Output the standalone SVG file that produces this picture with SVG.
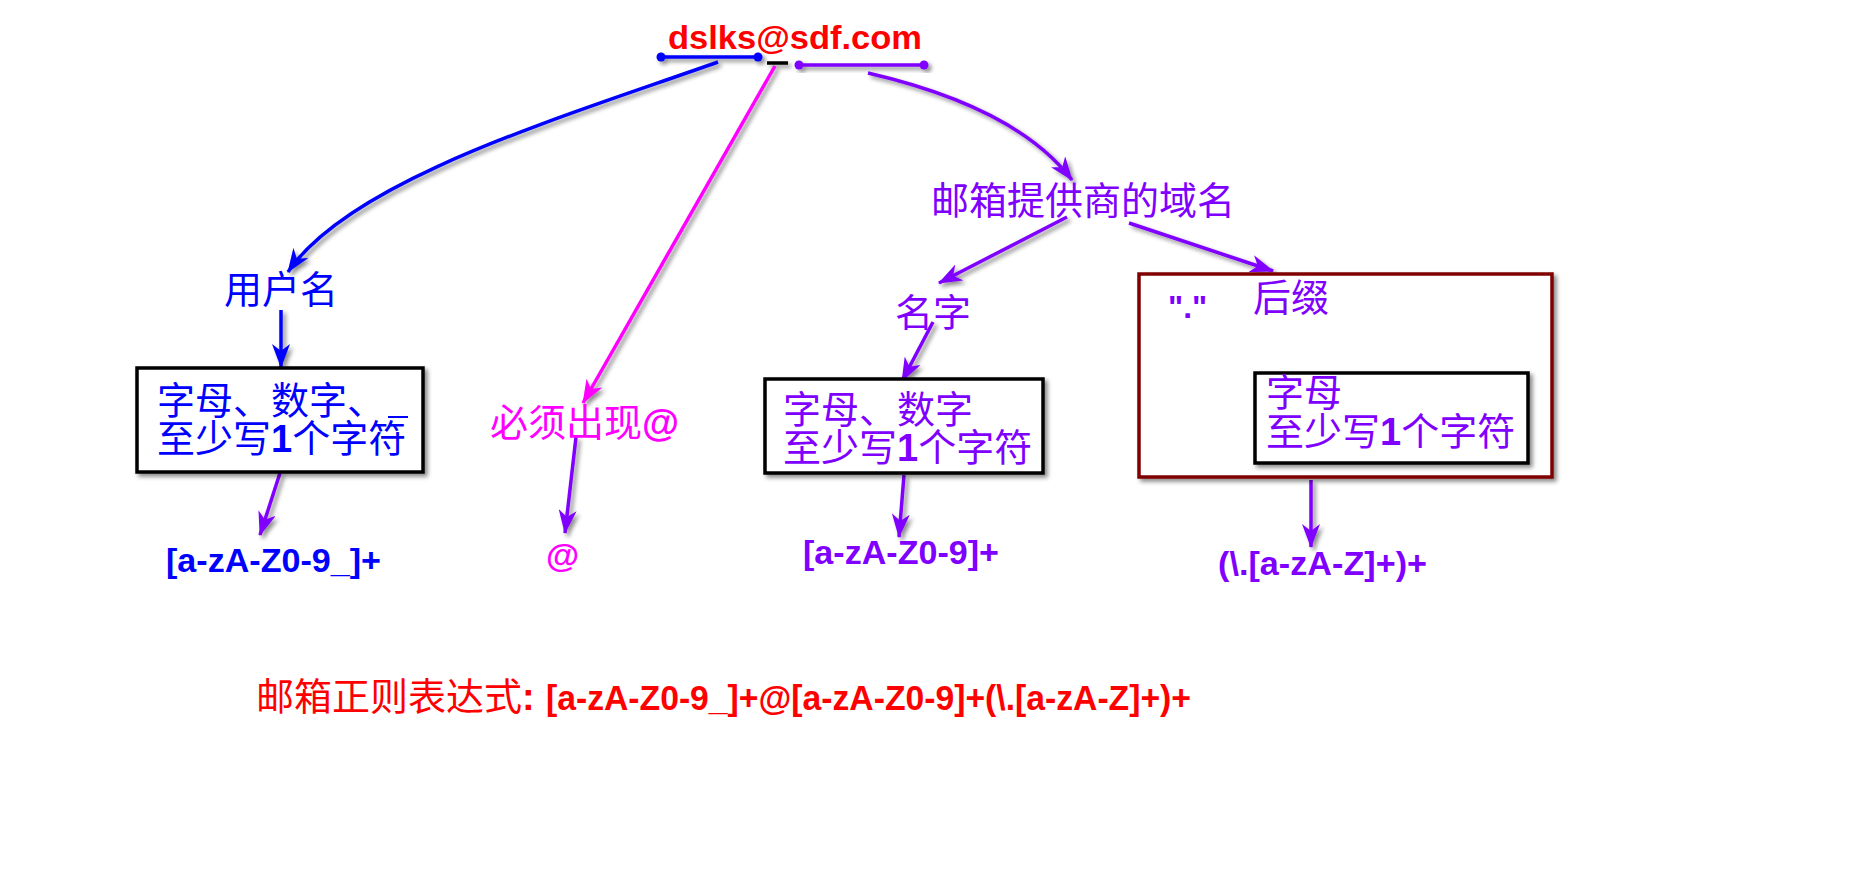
<svg xmlns="http://www.w3.org/2000/svg" width="1854" height="889" viewBox="0 0 1854 889">
<style>
.cjk{font-family:"Liberation Sans","Noto Sans CJK SC",sans-serif;font-size:38px}
.b{font-family:"Liberation Sans",sans-serif;font-weight:bold}
.blue{fill:#0000FF}.pur{fill:#8000FF}.mag{fill:#FF00FF}.red{fill:#FF0000}
.box{fill:#fff;stroke:#000;stroke-width:3.5}
.line{fill:none;stroke-width:3.5}
</style>
<defs>
<filter id="sh" x="-20%" y="-20%" width="140%" height="140%">
<feDropShadow dx="3" dy="3" stdDeviation="2" flood-color="#000" flood-opacity="0.45"/>
</filter>
<marker id="aB" viewBox="0 0 24 18" refX="23" refY="9" markerWidth="24" markerHeight="18" markerUnits="userSpaceOnUse" orient="auto"><path d="M0,0 L24,9 L0,18 L7,9 Z" fill="#0000FF"/></marker>
<marker id="aP" viewBox="0 0 24 18" refX="23" refY="9" markerWidth="24" markerHeight="18" markerUnits="userSpaceOnUse" orient="auto"><path d="M0,0 L24,9 L0,18 L7,9 Z" fill="#8000FF"/></marker>
<marker id="aM" viewBox="0 0 24 18" refX="23" refY="9" markerWidth="24" markerHeight="18" markerUnits="userSpaceOnUse" orient="auto"><path d="M0,0 L24,9 L0,18 L7,9 Z" fill="#FF00FF"/></marker>
</defs>
<rect width="1854" height="889" fill="#fff"/>

<g id="email">
<text class="b red" x="668" y="49" font-size="33" textLength="254" lengthAdjust="spacingAndGlyphs">dslks@sdf.com</text>
<g filter="url(#sh)">
<line x1="661" y1="57" x2="758" y2="57" stroke="#0000FF" stroke-width="3.5"/>
<circle cx="661" cy="57" r="4.5" fill="#0000FF"/><circle cx="758" cy="57" r="4.5" fill="#0000FF"/>
<line x1="767" y1="63" x2="788" y2="63" stroke="#000" stroke-width="3.5"/>
<line x1="799" y1="65" x2="924" y2="65" stroke="#8000FF" stroke-width="3.5"/>
<circle cx="799" cy="65" r="4.5" fill="#8000FF"/><circle cx="924" cy="65" r="4.5" fill="#8000FF"/>
</g>
</g>

<g id="connectors" filter="url(#sh)">
<path class="line" stroke="#0000FF" marker-end="url(#aB)" d="M718,62 C560,118 350,180 288,272"/>
<path class="line" stroke="#FF00FF" marker-end="url(#aM)" d="M775,66 L583,403"/>
<path class="line" stroke="#8000FF" marker-end="url(#aP)" d="M868,73 C950,92 1030,125 1072,180"/>
<path class="line" stroke="#8000FF" marker-end="url(#aP)" d="M1067,217 L939,283"/>
<path class="line" stroke="#8000FF" marker-end="url(#aP)" d="M1129,223 L1273,271"/>
<path class="line" stroke="#0000FF" marker-end="url(#aB)" d="M281,310 L281,367"/>
<path class="line" stroke="#8000FF" marker-end="url(#aP)" d="M280,473 L260,535"/>
<path class="line" stroke="#8000FF" marker-end="url(#aP)" d="M576,437 L565,533"/>
<path class="line" stroke="#8000FF" marker-end="url(#aP)" d="M933,322 L902,381"/>
<path class="line" stroke="#8000FF" marker-end="url(#aP)" d="M904,475 L899,537"/>
<path class="line" stroke="#8000FF" marker-end="url(#aP)" d="M1288,310 L1300,371"/>
<path class="line" stroke="#8000FF" marker-end="url(#aP)" d="M1311,480 L1311,547"/>
</g>

<g id="username">
<text class="cjk blue" x="224" y="303">用户名</text>
</g>

<g id="username-rule">
<rect class="box" x="137" y="368" width="286" height="104" filter="url(#sh)"/>
<text class="cjk blue" x="157" y="414">字母、数字、</text>
<line x1="388" y1="417" x2="408" y2="417" stroke="#0000FF" stroke-width="2"/>
<text class="cjk blue" x="157" y="452">至少写<tspan font-weight="bold">1</tspan>个字符</text>
</g>

<g id="username-regex">
<text class="b blue" x="166" y="572" font-size="34" textLength="215" lengthAdjust="spacingAndGlyphs">[a-zA-Z0-9_]+</text>
</g>

<g id="at-label">
<text class="cjk mag" x="490" y="436">必须出现<tspan font-weight="bold">@</tspan></text>
</g>

<g id="at-regex">
<text class="b mag" x="546" y="567" font-size="34">@</text>
</g>

<g id="domain">
<text class="cjk pur" x="931" y="214" font-size="39">邮箱提供商的域名</text>
</g>

<g id="name">
<text class="cjk pur" x="895" y="326">名字</text>
</g>

<g id="name-rule">
<rect class="box" x="765" y="379" width="278" height="94" filter="url(#sh)"/>
<text class="cjk pur" x="783" y="423">字母、数字</text>
<text class="cjk pur" x="783" y="461">至少写<tspan font-weight="bold">1</tspan>个字符</text>
</g>

<g id="name-regex">
<text class="b pur" x="803" y="564" font-size="34" textLength="196" lengthAdjust="spacingAndGlyphs">[a-zA-Z0-9]+</text>
</g>

<g id="suffix">
<rect x="1139" y="274" width="413" height="203" fill="#fff" stroke="#800000" stroke-width="3.5" filter="url(#sh)"/>
<text class="b pur" x="1168" y="318" font-size="32">"."</text>
<text class="cjk pur" x="1253" y="311">后缀</text>
</g>

<g id="suffix-rule">
<rect class="box" x="1255" y="373" width="273" height="90" filter="url(#sh)"/>
<text class="cjk pur" x="1266" y="406">字母</text>
<text class="cjk pur" x="1266" y="445">至少写<tspan font-weight="bold">1</tspan>个字符</text>
</g>

<g id="suffix-regex">
<text class="b pur" x="1218" y="575" font-size="34" textLength="209" lengthAdjust="spacingAndGlyphs">(\.[a-zA-Z]+)+</text>
</g>

<g id="formula">
<text class="cjk red" x="256" y="710">邮箱正则表达式<tspan font-weight="bold">: </tspan><tspan class="b" x="546" font-size="35" textLength="645" lengthAdjust="spacingAndGlyphs">[a-zA-Z0-9_]+@[a-zA-Z0-9]+(\.[a-zA-Z]+)+</tspan></text>
</g>
</svg>
